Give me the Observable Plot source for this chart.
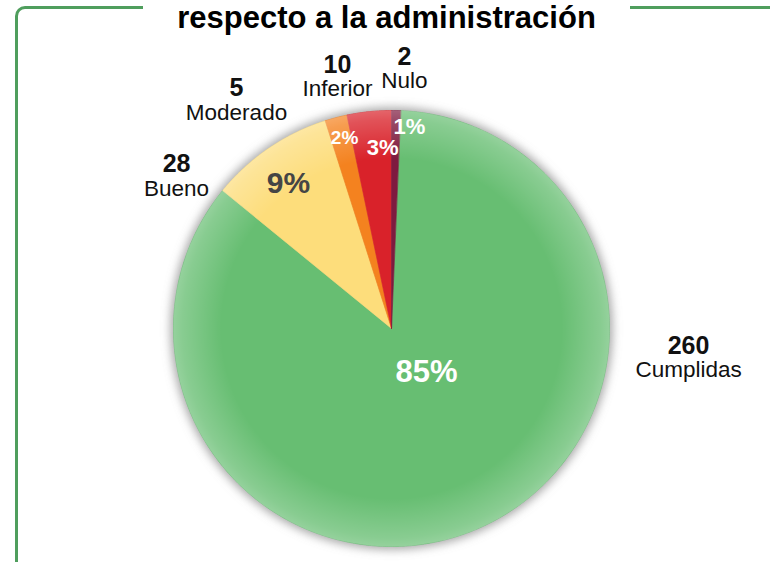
<!DOCTYPE html>
<html>
<head>
<meta charset="utf-8">
<script src="https://cdn.jsdelivr.net/npm/d3@7"></script>
<script src="https://cdn.jsdelivr.net/npm/@observablehq/plot@0.6"></script>
<style>
  body { margin: 0; background: #fff; }
  #wrap { position: relative; width: 770px; height: 562px; overflow: hidden; font-family: "Liberation Sans", Arial, sans-serif; }
  #frame { position: absolute; left: 15px; top: 6px; width: 800px; height: 700px;
           border-left: 3px solid #4f9e5d; border-top: 3px solid #4f9e5d; border-top-left-radius: 10px; }
  #title { position: relative; height: 36px; text-align: center; padding-left: 3px; box-sizing: border-box; }
  #title span { display: inline-block; background: #fff; padding: 0 34px; font-size: 31px; font-weight: bold;
                line-height: 34px; color: #000; position: relative; top: 1px; }
  #chart { position: relative; }
  #chart svg { display: block; overflow: visible; }
</style>
</head>
<body>
<div id="wrap">
  <div id="frame"></div>
  <div id="title"><span>respecto a la administración</span></div>
  <div id="chart"></div>
</div>
<script>
// ---- data ----
const categories = ["Cumplidas", "Bueno", "Moderado", "Inferior", "Nulo"];
const counts = [260, 28, 5, 10, 2];

// ---- styles / layout ----
const sliceColors = ["#67be72", "#fddd7b", "#f4821f", "#d9222a", "#7e1b3f"];
const pctAnchor = [[141.5, 0.258], [324.6, 0.816], [346.2, 0.902], [357.2, 0.83], [5.1, 0.926]]; // [deg, radius]
const pctSize = [31, 30, 19, 22, 22];
const pctFill = ["#ffffff", "#454545", "#ffffff", "#ffffff", "#ffffff"];
const nameAnchor = [[95.6, 1.369], [305.3, 1.208], [325.8, 1.265], [347.9, 1.182], [2.86, 1.194]];
const W = 770, H = 526, CX = 391, CY = 292, R = 218;

const total = d3.sum(counts);
const rows = categories.map((c, i) => ({name: c, value: counts[i]}));
// Nulo sits at 12 o'clock, the others follow clockwise
const start = 2 * Math.PI * counts[categories.indexOf("Nulo")] / total;
const arcs = d3.pie().sort(null).value(d => d.value).startAngle(start).endAngle(start + 2 * Math.PI)(rows);

const polyPts = [];
arcs.forEach(a => {
  const n = Math.max(3, Math.ceil((a.endAngle - a.startAngle) / (Math.PI / 360)));
  polyPts.push({name: a.data.name, x: 0, y: 0});
  for (let k = 0; k <= n; k++) {
    const t = a.startAngle + (a.endAngle - a.startAngle) * k / n;
    polyPts.push({name: a.data.name, x: Math.sin(t), y: Math.cos(t)});
  }
});

const polar = ([deg, r]) => ({x: r * Math.sin(deg * Math.PI / 180), y: r * Math.cos(deg * Math.PI / 180)});
const pctLabels = rows.map((d, i) => ({...polar(pctAnchor[i]), text: Math.round(d.value / total * 100) + "%", size: pctSize[i], fill: pctFill[i]}));
const outLabels = rows.map((d, i) => ({...polar(nameAnchor[i]), num: String(d.value), name: d.name}));

const font = "Liberation Sans, Arial, sans-serif";
const plot = Plot.plot({
  width: W, height: H, margin: 0,
  x: {domain: [-1, 1], range: [CX - R, CX + R], axis: null},
  y: {domain: [-1, 1], range: [CY + R, CY - R], axis: null},
  color: {domain: categories, range: sliceColors},
  style: {fontFamily: font, background: "transparent", overflow: "visible"},
  marks: [
    Plot.dot([{x: 0, y: 0}], {x: "x", y: "y", r: R + 3, fill: "#8a8a8a", fillOpacity: 0.75, stroke: "none"}),
    Plot.line(polyPts, {x: "x", y: "y", z: "name", fill: "name", stroke: "name", strokeWidth: 0.6, curve: "linear-closed"}),
    Plot.dot([{x: 0, y: 0}], {x: "x", y: "y", r: R, fill: "url(#rim)", stroke: "none"}),
    Plot.text(pctLabels.filter(d => d.fill === "#ffffff"), {x: "x", y: "y", text: "text", fontSize: "size", fontWeight: "bold", fill: "#ffffff"}),
    Plot.text(pctLabels.filter(d => d.fill !== "#ffffff"), {x: "x", y: "y", text: "text", fontSize: "size", fontWeight: "bold", fill: "#454545"}),
    Plot.text(outLabels, {x: "x", y: "y", text: "num", dy: -12, fontSize: 25, fontWeight: "bold", fill: "#111"}),
    Plot.text(outLabels, {x: "x", y: "y", text: "name", dy: 12, fontSize: 22.5, fill: "#111"})
  ]
});

const svg = d3.select(plot);
const defs = svg.insert("defs", ":first-child");
const g = defs.append("radialGradient").attr("id", "rim").attr("cx", "50%").attr("cy", "50%").attr("r", "50%");
g.append("stop").attr("offset", "0.78").attr("stop-color", "#fff").attr("stop-opacity", 0);
g.append("stop").attr("offset", "0.96").attr("stop-color", "#fff").attr("stop-opacity", 0.22);
g.append("stop").attr("offset", "1").attr("stop-color", "#fff").attr("stop-opacity", 0.3);
defs.append("filter").attr("id", "blur").attr("x", "-20%").attr("y", "-20%").attr("width", "140%").attr("height", "140%")
  .append("feGaussianBlur").attr("stdDeviation", 5);
const dots = svg.selectAll('g[aria-label="dot"]').nodes();
if (dots.length) d3.select(dots[0]).attr("filter", "url(#blur)");
if (dots.length > 1) d3.select(dots[1]).selectAll("circle").attr("fill", "url(#rim)");

document.getElementById("chart").appendChild(plot);
</script>
</body>
</html>
